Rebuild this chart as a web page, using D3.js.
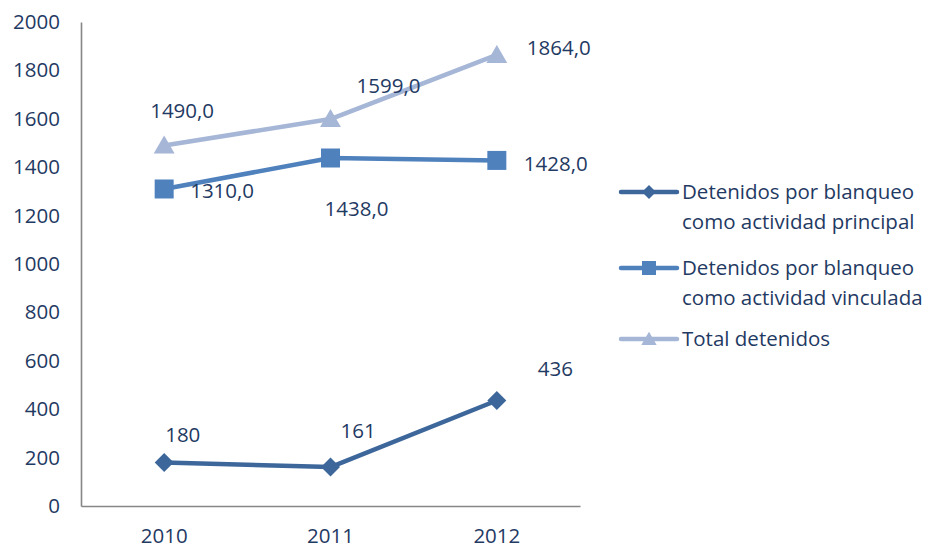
<!DOCTYPE html>
<html><head><meta charset="utf-8">
<script src="https://cdn.jsdelivr.net/npm/d3@7"></script>
<style>body{margin:0;background:#fff}</style>
</head><body>
<svg id="c" width="930" height="548"></svg>
<script>
const categories = ["2010", "2011", "2012"];
const seriesNames = ["Detenidos por blanqueo|como actividad principal", "Detenidos por blanqueo|como actividad vinculada", "Total detenidos"];
const principal = [180, 161, 436];
const vinculada = [1310, 1438, 1428];
const total = [1490, 1599, 1864];
const principalLabels = ["180", "161", "436"];
const vinculadaLabels = ["1310,0", "1438,0", "1428,0"];
const totalLabels = ["1490,0", "1599,0", "1864,0"];
const yTicks = [0, 200, 400, 600, 800, 1000, 1200, 1400, 1600, 1800, 2000];

const series = [
  {name: seriesNames[0], values: principal, labels: principalLabels, color: "#3D679B", marker: "diamond",
   off: [[1, -28], [10, -36], [41, -32]]},
  {name: seriesNames[1], values: vinculada, labels: vinculadaLabels, color: "#4F81BD", marker: "square",
   off: [[26, 2], [-6, 51], [27, 3]]},
  {name: seriesNames[2], values: total, labels: totalLabels, color: "#A6B6D6", marker: "triangle",
   off: [[-14, -35], [26, -33], [30, -7]]}
];

const svg = d3.select("#c");
const font = "'Open Sans', sans-serif";
const fs = 20.5;
const textColor = "#1F3A63";
const mLeft = 81, mRight = 580, mTop = 22, mBottom = 506;

const x = d3.scaleBand().domain(categories).range([mLeft, mRight]);
const y = d3.scaleLinear().domain([0, 2000]).range([mBottom, mTop]);

// axes
const yAxis = svg.append("g").attr("transform", `translate(${mLeft},0)`)
  .call(d3.axisLeft(y).tickValues(yTicks).tickFormat(d3.format("d")).tickSize(0).tickPadding(21));
const xAxis = svg.append("g").attr("transform", `translate(0,${mBottom})`)
  .call(d3.axisBottom(x).tickSize(0).tickPadding(20));
[yAxis, xAxis].forEach(a => {
  a.select(".domain").attr("stroke", "#868686").attr("stroke-width", 1.6);
  a.selectAll("text").attr("font-family", font).attr("font-size", fs).attr("fill", textColor);
});
xAxis.selectAll("text").attr("dy", "0.85em");

function markerPath(type, s) {
  if (type === "diamond") return `M0,${-s}L${s},0L0,${s}L${-s},0Z`;
  if (type === "square") return `M${-s},${-s}H${s}V${s}H${-s}Z`;
  return `M0,${-s * 1.05}L${s * 1.1},${s * 0.85}L${-s * 1.1},${s * 0.85}Z`;
}
const markerSize = {diamond: 9.5, square: 9.5, triangle: 9.5};

const line = d3.line().x((d, i) => x(categories[i]) + x.bandwidth() / 2).y(d => y(d));

series.forEach(s => {
  const g = svg.append("g");
  g.append("path").attr("d", line(s.values)).attr("fill", "none")
    .attr("stroke", s.color).attr("stroke-width", 4.5).attr("stroke-linejoin", "round");
  s.values.forEach((v, i) => {
    const cx = x(categories[i]) + x.bandwidth() / 2, cy = y(v);
    g.append("path").attr("d", markerPath(s.marker, markerSize[s.marker]))
      .attr("transform", `translate(${cx},${cy})`).attr("fill", s.color);
    g.append("text").attr("x", cx + s.off[i][0]).attr("y", cy + s.off[i][1])
      .attr("dy", "0.35em").attr("font-family", font).attr("font-size", fs)
      .attr("fill", textColor).text(s.labels[i]);
  });
});

// legend
const legendY = [192, 268, 339];
series.forEach((s, i) => {
  const g = svg.append("g").attr("transform", `translate(621,${legendY[i]})`);
  g.append("line").attr("x1", 0).attr("x2", 56).attr("stroke", s.color).attr("stroke-width", 4.5)
    .attr("stroke-linecap", "round");
  g.append("path").attr("d", markerPath(s.marker, s.marker === "diamond" ? 7 : 7))
    .attr("transform", "translate(28,0)").attr("fill", s.color);
  const lines = s.name.split("|");
  lines.forEach((t, j) => {
    g.append("text").attr("x", 61).attr("y", j * 30).attr("dy", "0.35em")
      .attr("font-family", font).attr("font-size", fs).attr("fill", textColor).text(t);
  });
});
</script>
</body></html>
